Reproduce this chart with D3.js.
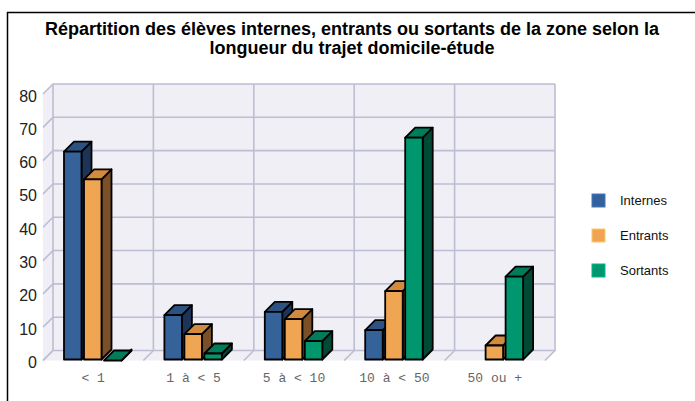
<!DOCTYPE html>
<html><head><meta charset="utf-8">
<script src="https://cdn.jsdelivr.net/npm/d3@7"></script>
<style>
html,body{margin:0;padding:0;background:#fff;}
svg{display:block;}
</style></head>
<body>
<svg id="chart" width="695" height="401"></svg>
<script>
const titleLines = ["Répartition des élèves internes, entrants ou sortants de la zone selon la", "longueur du trajet domicile-étude"];
const categories = ["< 1", "1 à < 5", "5 à < 10", "10 à < 50", "50 ou +"];
const seriesNames = ["Internes", "Entrants", "Sortants"];
const internes = [62.7, 13.6, 14.6, 9.1, null];
const entrants = [54.4, 7.9, 12.4, 20.8, 4.5];
const sortants = [0, 2.1, 5.8, 66.9, 25.2];
const yTicks = [0, 10, 20, 30, 40, 50, 60, 70, 80];

const seriesValues = [internes, entrants, sortants];
const colors = [
  {front: "#36629a", top: "#2c5281", side: "#1e3457", legend: "#35619a"},
  {front: "#f0a552", top: "#d48a3e", side: "#7b5029", legend: "#f0a352"},
  {front: "#00976f", top: "#007c5a", side: "#004a35", legend: "#00966f"}
];

const svg = d3.select("#chart");
const DX = 10, DY = 10;

// frame
svg.append("line").attr("x1", 7).attr("y1", 12.5).attr("x2", 695).attr("y2", 12.5).attr("stroke", "#000").attr("stroke-width", 1.5);
svg.append("line").attr("x1", 7.5).attr("y1", 12).attr("x2", 7.5).attr("y2", 401).attr("stroke", "#000").attr("stroke-width", 1.5);

// title
const title = svg.append("text").attr("text-anchor", "middle")
  .attr("font-family", "'Liberation Sans', Arial, sans-serif").attr("font-weight", "bold")
  .attr("font-size", 18).attr("fill", "#000");
titleLines.forEach((t, i) => title.append("tspan").attr("x", 352).attr("y", 35 + i * 19).text(t));

const x = d3.scaleBand().domain(categories).range([43, 545]);
const xs = d3.scaleBand().domain(seriesNames).range([21, 78.5]).paddingInner(0.125);
const y = d3.scaleLinear().domain([0, 80]).range([360.5, 94]);

const x0 = x.range()[0], x1 = x.range()[1];
const yb0 = y(0), yTop = y(80);
const wallFill = "#efeff5", gridCol = "#bdbdd3";

// walls
const g = svg.append("g");
g.append("rect").attr("x", x0 + DX).attr("y", yTop - DY).attr("width", x1 - x0).attr("height", yb0 - yTop).attr("fill", wallFill);
g.append("path").attr("d", `M${x0},${yTop} L${x0 + DX},${yTop - DY} L${x0 + DX},${yb0 - DY} L${x0},${yb0} Z`).attr("fill", wallFill);
g.append("path").attr("d", `M${x0},${yb0} L${x0 + DX},${yb0 - DY} L${x1 + DX},${yb0 - DY} L${x1},${yb0} Z`).attr("fill", wallFill);

// horizontal gridlines
yTicks.forEach(v => {
  const yy = y(v);
  g.append("path").attr("d", `M${x0},${yy} L${x0 + DX},${yy - DY} L${x1 + DX},${yy - DY}`)
    .attr("fill", "none").attr("stroke", gridCol).attr("stroke-width", 1.6);
});
// vertical gridlines + floor diagonals
const bounds = categories.map(c => x(c)).concat([x1]);
bounds.forEach(bx => {
  g.append("path").attr("d", `M${bx},${yb0} L${bx + DX},${yb0 - DY} L${bx + DX},${yTop - DY}`)
    .attr("fill", "none").attr("stroke", gridCol).attr("stroke-width", 1.6);
});

// y labels
svg.append("g").selectAll("text").data(yTicks).join("text")
  .attr("x", 37).attr("y", d => y(d) + 7.5).attr("text-anchor", "end")
  .attr("font-family", "'Liberation Sans', Arial, sans-serif").attr("font-size", 16).attr("fill", "#222")
  .text(d => d);

// x labels
svg.append("g").selectAll("text").data(categories).join("text")
  .attr("x", d => x(d) + x.bandwidth() / 2).attr("y", 382).attr("text-anchor", "middle")
  .attr("font-family", "'Liberation Mono', 'Courier New', monospace").attr("font-size", 13).attr("fill", "#666")
  .attr("xml:space", "preserve").style("white-space", "pre")
  .text(d => d);

// bars
const bars = svg.append("g");
categories.forEach((c, ci) => {
  seriesNames.forEach((s, si) => {
    const v = seriesValues[si][ci];
    if (v === null || v === undefined) return;
    const bx = x(c) + xs(s), bw = xs.bandwidth();
    const yt = y(v), yb = y(0) - 1;
    const col = colors[si];
    const bg = bars.append("g").attr("stroke", "#000").attr("stroke-width", 1.8).attr("stroke-linejoin", "round");
    bg.append("path").attr("d", `M${bx + bw},${yt} L${bx + bw + DX},${yt - DY} L${bx + bw + DX},${yb - DY} L${bx + bw},${yb} Z`).attr("fill", col.side);
    bg.append("path").attr("d", `M${bx},${yt} L${bx + DX},${yt - DY} L${bx + bw + DX},${yt - DY} L${bx + bw},${yt} Z`).attr("fill", col.top);
    if (yb - yt > 0.5) bg.append("rect").attr("x", bx).attr("y", yt).attr("width", bw).attr("height", yb - yt).attr("fill", col.front);
  });
});

// legend
const lg = svg.append("g");
seriesNames.forEach((s, i) => {
  const ly = 194 + i * 35;
  lg.append("rect").attr("x", 592).attr("y", ly).attr("width", 13).attr("height", 13)
    .attr("fill", colors[i].legend).attr("stroke", d3.color(colors[i].legend).brighter(0.6)).attr("stroke-width", 1);
  lg.append("text").attr("x", 620).attr("y", ly + 11).attr("font-family", "'Liberation Sans', Arial, sans-serif")
    .attr("font-size", 13).attr("fill", "#111").text(s);
});
</script>
</body></html>
